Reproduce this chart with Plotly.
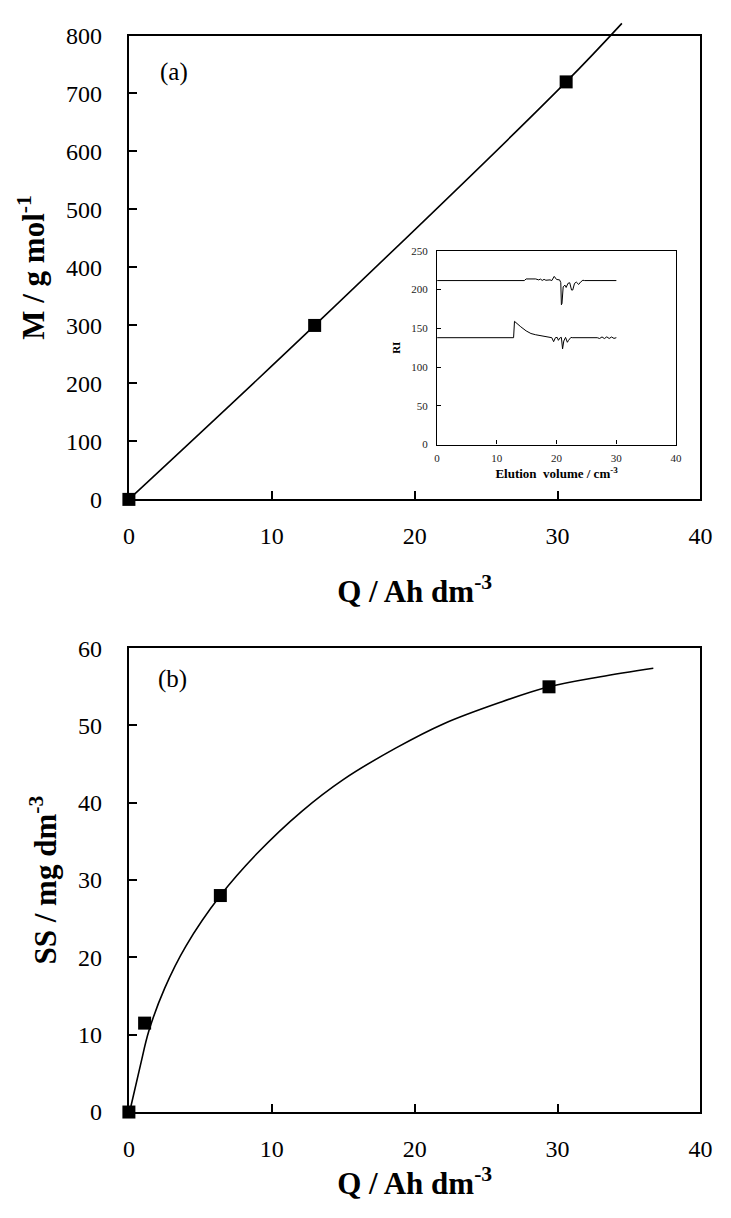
import plotly.graph_objects as go

# ---- Panel (a): molecular weight vs charge ----
q_a_pts = [0, 13, 30.6]
m_a_pts = [0, 300, 720]
q_a_fit = [0, 13, 30.6, 34.5]
m_a_fit = [0, 300, 720, 821]

# ---- Panel (b): SS vs charge ----
q_b_pts = [0, 1.1, 6.4, 29.4]
ss_b_pts = [0, 11.5, 28, 55]
q_b_fit = [0.05, 0.8, 1.4, 2.5, 4, 6.4, 9, 12.1, 15, 18.7, 22, 26, 29.4, 33, 36.7]
ss_b_fit = [0, 6, 10.5, 16, 21.5, 28, 33.5, 38.9, 43, 47.1, 50.2, 53, 55, 56.3, 57.4]

# ---- Inset: RI chromatograms ----
ev_upper = [0, 14.6, 14.9, 16.5, 17.0, 17.3, 17.6, 17.9, 18.2, 18.9, 19.2, 19.6, 20.0, 20.5, 20.7, 20.8,
            20.9, 21.1, 21.4, 21.6, 21.9, 22.2, 22.5, 22.7, 23.0, 23.3, 23.7, 24.0, 24.4, 24.7, 30]
ri_upper = [211.6, 211.6, 213.7, 213.7, 212.5, 213.5, 211.8, 213.2, 212.0, 212.5, 211.6, 217, 213, 212.5,
            209, 180.4, 182, 203.6, 205.7, 202.7, 208, 208.8, 199.4, 199.4, 208, 209.6, 206.6, 209.6,
            212, 211.6, 211.6]
ev_lower = [0, 12.8, 12.95, 13.3, 14.0, 14.9, 15.7, 16.5, 17.6, 18.7, 19.2, 19.5, 19.8, 20.1,
            20.3, 20.6, 20.8, 21.0, 21.2, 21.5, 21.8, 22.0, 22.4, 22.6, 26.8, 27.2, 27.6, 28.0,
            28.4, 28.8, 29.2, 29.6, 30]
ri_lower = [137.9, 137.9, 159, 156.4, 152, 146.7, 143.3, 141.7, 140.4, 139, 137.9, 132.8, 137.9, 138.3,
            134.5, 137.9, 138.3, 123.5, 133.6, 138.3, 132, 134.5, 138.3, 137.9, 137.9, 136.9, 138.9,
            136.8, 139.0, 136.9, 138.8, 137.0, 137.9]

FONT = "Liberation Serif"
W, H = 731, 1218

def px(x):
    return x / W

def py(y):
    return 1 - y / H

# pixel frame of the panels
A_TOP, A_BOT = 23, 497
B_TOP, B_BOT = 649, 1123
LEFT, RIGHT = 126, 712
A_LINE_TOP = 5  # fitted line of panel (a) runs a little above the frame
a_line_ymax = 800 * (A_BOT - A_LINE_TOP) / (A_BOT - A_TOP)

fig = go.Figure()

# panel (a) fitted line on a taller, invisible axis with the same scale
fig.add_trace(go.Scatter(x=q_a_fit, y=m_a_fit, mode="lines", line=dict(color="black", width=1.6, shape="spline"),
                         xaxis="x4", yaxis="y4", showlegend=False, hoverinfo="skip"))
fig.add_trace(go.Scatter(x=q_a_pts, y=m_a_pts, mode="markers", marker=dict(symbol="square", size=13, color="black"),
                         xaxis="x", yaxis="y", showlegend=False, cliponaxis=False))

# inset
fig.add_trace(go.Scatter(x=ev_upper, y=ri_upper, mode="lines", line=dict(color="black", width=1),
                         xaxis="x3", yaxis="y3", showlegend=False))
fig.add_trace(go.Scatter(x=ev_lower, y=ri_lower, mode="lines", line=dict(color="black", width=1),
                         xaxis="x3", yaxis="y3", showlegend=False))

# panel (b)
fig.add_trace(go.Scatter(x=q_b_fit, y=ss_b_fit, mode="lines", line=dict(color="black", width=1.6, shape="spline"),
                         xaxis="x2", yaxis="y2", showlegend=False, hoverinfo="skip"))
fig.add_trace(go.Scatter(x=q_b_pts, y=ss_b_pts, mode="markers", marker=dict(symbol="square", size=13, color="black"),
                         xaxis="x2", yaxis="y2", showlegend=False, cliponaxis=False))

main_axis = dict(showgrid=False, zeroline=False, showline=True, linecolor="black", linewidth=2.2,
                 mirror=True, ticks="inside", ticklen=8, tickwidth=2, tickcolor="black",
                 tickfont=dict(family=FONT, size=24, color="black"))
inset_axis = dict(showgrid=False, zeroline=False, showline=True, linecolor="black", linewidth=1.2,
                  mirror=True, ticks="inside", ticklen=4, tickwidth=1, tickcolor="black",
                  tickfont=dict(family=FONT, size=11, color="#222"))
TITLE_FONT = dict(family=FONT, size=31, color="black")

xdom = [px(LEFT), px(RIGHT)]
fig.update_layout(
    width=W, height=H,
    margin=dict(l=0, r=0, t=0, b=0),
    paper_bgcolor="white", plot_bgcolor="rgba(0,0,0,0)",
    xaxis=dict(main_axis, domain=xdom, anchor="y", range=[0, 40], tickvals=[0, 10, 20, 30, 40],
               ticklabelstandoff=14,
               title=dict(text="<b>Q / Ah dm<sup>-3</sup></b>", font=TITLE_FONT, standoff=32)),
    yaxis=dict(main_axis, domain=[py(A_BOT), py(A_TOP)], anchor="x", range=[0, 800],
               tickvals=list(range(0, 801, 100)), ticklabelstandoff=20,
               title=dict(text="<b>M / g mol<sup>-1</sup></b>", font=TITLE_FONT, standoff=12)),
    xaxis2=dict(main_axis, domain=xdom, anchor="y2", range=[0, 40], tickvals=[0, 10, 20, 30, 40],
                ticklabelstandoff=14,
                title=dict(text="<b>Q / Ah dm<sup>-3</sup></b>", font=TITLE_FONT, standoff=11)),
    yaxis2=dict(main_axis, domain=[py(B_BOT), py(B_TOP)], anchor="x2", range=[0, 60],
                tickvals=list(range(0, 61, 10)), ticklabelstandoff=20,
                title=dict(text="<b>SS / mg dm<sup>-3</sup></b>", font=TITLE_FONT, standoff=12)),
    xaxis3=dict(inset_axis, domain=[px(442), px(687)], anchor="y3", range=[0, 40], tickvals=[0, 10, 20, 30, 40],
                ticklabelstandoff=3,
                title=dict(text="<b>Elution  volume / cm<sup>-3</sup></b>",
                           font=dict(family=FONT, size=13, color="black"), standoff=6)),
    yaxis3=dict(inset_axis, domain=[py(441), py(243)], anchor="x3", range=[0, 250], tickvals=list(range(0, 251, 50)),
                ticklabelstandoff=6,
                title=dict(text="<b>RI</b>", font=dict(family=FONT, size=11, color="black"), standoff=8)),
    xaxis4=dict(domain=xdom, anchor="y4", range=[0, 40], visible=False, fixedrange=True),
    yaxis4=dict(domain=[py(A_BOT), py(A_LINE_TOP)], anchor="x4", range=[0, a_line_ymax],
                visible=False, fixedrange=True),
    annotations=[
        dict(text="(a)", x=px(156), y=py(60), xref="paper", yref="paper", xanchor="left", yanchor="middle",
             showarrow=False, font=dict(family=FONT, size=25, color="black")),
        dict(text="(b)", x=px(154), y=py(681), xref="paper", yref="paper", xanchor="left", yanchor="middle",
             showarrow=False, font=dict(family=FONT, size=25, color="black")),
    ],
)

fig.write_html("out.html", config={"displayModeBar": False},
               post_script="document.body.style.margin='0px';document.body.style.overflow='hidden';")
